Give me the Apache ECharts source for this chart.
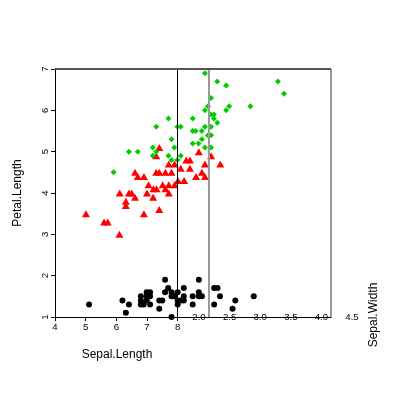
<!DOCTYPE html>
<html><head><meta charset="utf-8">
<script src="https://cdn.jsdelivr.net/npm/echarts@6/dist/echarts.min.js"></script>
<style>html,body{margin:0;padding:0;background:#fff}#c{width:400px;height:400px}</style>
</head><body><div id="c"></div>
<script>
// Axis ticks
const xTickValues = [4, 5, 6, 7, 8];
const yTickValues = [1, 2, 3, 4, 5, 6, 7];
const widthTickValues = [2.0, 2.5, 3.0, 3.5, 4.0, 4.5];
// Projected positions: [horizontal position on Sepal.Length axis, Petal.Length]
const setosa = [
  [5.11,1.3],[6.20,1.4],[6.41,1.3],[6.31,1.1],[6.80,1.5],[6.80,1.4],[6.80,1.3],[6.89,1.3],
  [6.99,1.6],[7.10,1.6],[6.99,1.5],[7.10,1.5],[6.99,1.4],[7.10,1.3],[7.40,1.4],[7.40,1.2],
  [7.50,1.4],[7.59,1.9],[7.59,1.6],[7.69,1.7],[7.80,1.6],[7.80,1.5],[7.89,1.5],[8.00,1.6],
  [8.00,1.4],[8.00,1.3],[8.10,1.4],[8.20,1.4],[8.20,1.5],[8.20,1.7],[7.80,1.0],[8.49,1.5],
  [8.49,1.3],[8.69,1.9],[8.69,1.6],[8.69,1.5],[8.79,1.5],[9.19,1.7],[9.30,1.7],[9.38,1.5],
  [9.19,1.3],[9.88,1.4],[9.79,1.2],[10.48,1.5]
];
const versicolor = [
  [7.40,5.1],[7.30,4.9],[8.69,5.0],[9.09,4.9],[7.71,4.7],[7.90,4.7],[8.28,4.8],[8.40,4.8],
  [8.89,4.7],[9.39,4.7],[8.10,4.6],[8.40,4.6],[6.61,4.5],[7.30,4.5],[7.40,4.5],[7.60,4.5],
  [7.80,4.5],[8.79,4.5],[6.70,4.4],[6.90,4.4],[8.60,4.4],[8.89,4.4],[8.01,4.3],[8.21,4.3],
  [7.05,4.2],[7.51,4.2],[7.71,4.2],[7.90,4.2],[7.21,4.1],[7.31,4.1],[7.60,4.1],[6.11,4.0],
  [6.41,4.0],[6.50,4.0],[7.00,4.0],[7.71,4.0],[6.61,3.9],[7.20,3.9],[6.31,3.8],[6.31,3.7],
  [5.01,3.5],[6.90,3.5],[7.40,3.6],[5.60,3.3],[5.72,3.3],[6.10,3.0]
];
const virginica = [
  [8.89,6.9],[9.29,6.7],[9.58,6.6],[11.27,6.7],[11.47,6.4],[9.09,6.3],[8.99,6.1],[9.68,6.1],
  [9.58,6.0],[10.37,6.1],[8.89,6.0],[9.09,5.9],[9.18,5.9],[8.49,5.8],[7.70,5.8],[9.18,5.8],
  [9.29,5.7],[7.30,5.6],[7.99,5.6],[8.10,5.6],[8.89,5.6],[9.09,5.6],[8.49,5.5],[8.59,5.5],
  [8.79,5.5],[8.99,5.4],[9.09,5.4],[7.80,5.3],[8.79,5.3],[8.49,5.2],[8.68,5.2],[7.19,5.1],
  [7.89,5.1],[8.89,5.1],[9.09,5.1],[6.41,5.0],[6.70,5.0],[7.30,5.0],[7.19,4.9],[7.70,4.9],
  [8.10,4.9],[7.80,4.8],[7.99,4.8],[5.91,4.5]
];
const xRange = [4, 13];
const yRange = [1, 7];
const blackLineX = 8;
const grayLineX = 9;

const font = 'Liberation Sans, Arial, Helvetica, sans-serif';
const chart = echarts.init(document.getElementById('c'), null, {renderer: 'canvas'});
chart.setOption({
  animation: false,
  backgroundColor: '#fff',
  grid: [
    {left: 55, right: 69, top: 69, bottom: 83},
    {left: 199, right: 48, top: 69, bottom: 83}
  ],
  xAxis: [
    {
      type: 'value', gridIndex: 0, min: xRange[0], max: xRange[1], interval: 1,
      name: 'Sepal.Length', nameLocation: 'middle', nameGap: 32,
      nameTextStyle: {fontSize: 12, color: '#000', fontFamily: font, padding: [0, 152, 0, 0]},
      axisLine: {show: true, lineStyle: {color: '#000', width: 1}},
      axisTick: {show: true, length: 4, inside: false, customValues: xTickValues, lineStyle: {color: '#000'}},
      axisLabel: {show: true, customValues: xTickValues, fontSize: 9.6, color: '#000', fontFamily: font, margin: 5},
      splitLine: {show: false}
    },
    {
      type: 'value', gridIndex: 1, min: widthTickValues[0], max: widthTickValues[widthTickValues.length - 1], interval: 0.5,
      axisLine: {show: false}, axisTick: {show: false}, splitLine: {show: false},
      axisLabel: {show: true, customValues: widthTickValues, formatter: v => v.toFixed(1), fontSize: 9.6, color: '#000', fontFamily: font, margin: -5, showMinLabel: true, showMaxLabel: true}
    }
  ],
  yAxis: [
    {
      type: 'value', gridIndex: 0, min: yRange[0], max: yRange[1], interval: 1,
      name: 'Petal.Length', nameLocation: 'middle', nameGap: 31, nameRotate: 90,
      nameTextStyle: {fontSize: 12, color: '#000', fontFamily: font},
      axisLine: {show: true, lineStyle: {color: '#000', width: 1}},
      axisTick: {show: true, length: 4, customValues: yTickValues, lineStyle: {color: '#000'}},
      axisLabel: {show: true, customValues: yTickValues, rotate: 90, fontSize: 9.6, color: '#000', fontFamily: font, margin: 5},
      splitLine: {show: false}
    },
    {type: 'value', gridIndex: 1, show: false, min: 0, max: 1}
  ],
  graphic: [
    {type: 'text', x: 374, y: 315, rotation: Math.PI / 2,
     style: {text: 'Sepal.Width', fontSize: 12, fill: '#000', fontFamily: font, textAlign: 'center', textVerticalAlign: 'middle'}}
  ],
  series: [
    {
      type: 'scatter', xAxisIndex: 0, yAxisIndex: 0, data: setosa,
      symbol: 'circle', symbolSize: 6, itemStyle: {color: '#000', opacity: 1},
      markLine: {
        silent: true, symbol: ['none', 'none'], label: {show: false}, animation: false,
        data: [
          {xAxis: blackLineX, lineStyle: {color: '#000', width: 1, type: 'solid'}},
          {xAxis: grayLineX, lineStyle: {color: '#999', width: 2, type: 'solid'}},
          {xAxis: xRange[1], lineStyle: {color: '#999', width: 2, type: 'solid'}},
          {yAxis: yRange[1], lineStyle: {color: '#555', width: 2, type: 'solid'}}
        ]
      }
    },
    {
      type: 'scatter', xAxisIndex: 0, yAxisIndex: 0, data: versicolor,
      symbol: 'triangle', symbolSize: [8, 7], itemStyle: {color: '#ff0000', opacity: 1}
    },
    {
      type: 'scatter', xAxisIndex: 0, yAxisIndex: 0, data: virginica,
      symbol: 'diamond', symbolSize: 6, itemStyle: {color: '#00cd00', opacity: 1}
    }
  ]
});
</script>
</body></html>
